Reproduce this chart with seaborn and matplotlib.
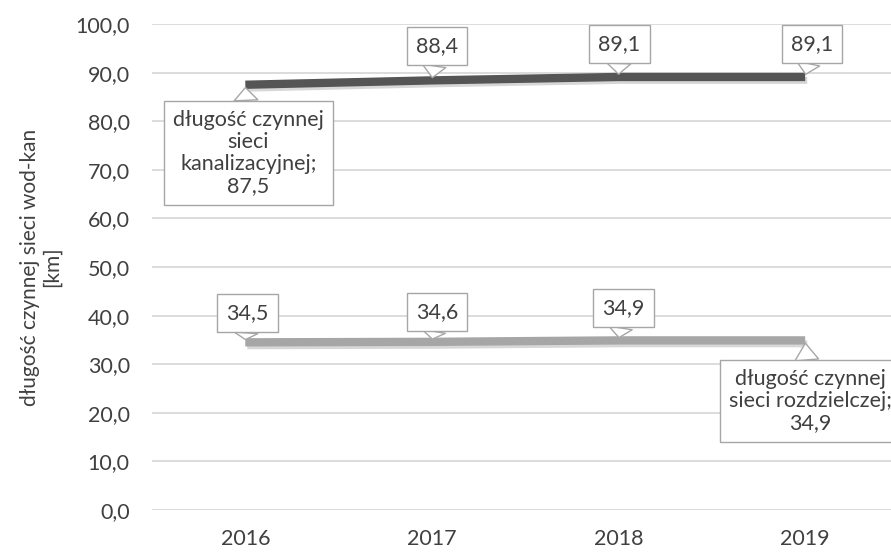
import matplotlib
matplotlib.use("Agg")
import matplotlib.pyplot as plt
import matplotlib.patheffects as pe
import seaborn as sns
import pandas as pd

years = ["2016", "2017", "2018", "2019"]
kanal = [87.5, 88.4, 89.1, 89.1]
rozdz = [34.5, 34.6, 34.9, 34.9]
kanal_name = "długość czynnej sieci kanalizacyjnej"
rozdz_name = "długość czynnej sieci rozdzielczej"
y_ticks = [0, 10, 20, 30, 40, 50, 60, 70, 80, 90, 100]

df = pd.DataFrame({
    "rok": years * 2,
    "km": kanal + rozdz,
    "seria": [kanal_name] * 4 + [rozdz_name] * 4,
})

sns.set_theme(style="white")
plt.rcParams['font.family'] = ['Lato', 'DejaVu Sans']
txt = "#404040"
fs = 15.5

fig = plt.figure(figsize=(8.91, 5.52), dpi=100)
ax = fig.add_axes([152 / 891, 42 / 552, (891 - 152) / 891, 486 / 552])

for v in y_ticks:
    ax.axhline(v, color="#d9d9d9", lw=1.3, zorder=0)

sns.lineplot(data=df, x="rok", y="km", hue="seria",
             palette={kanal_name: "#555555", rozdz_name: "#a6a6a6"},
             linewidth=6, legend=False, ax=ax, sort=False,
             path_effects=[pe.SimpleLineShadow(offset=(1.5, -2.5), shadow_color="#b0b0b0", alpha=0.5, linewidth=5),
                           pe.Normal()],
             solid_capstyle="butt")

ax.set_ylim(0, 100)
ax.set_xlim(-0.5, 3.46)
ax.set_yticks(y_ticks)
ax.set_yticklabels([f"{v:.1f}".replace(".", ",") for v in y_ticks], color=txt, fontsize=fs)
ax.tick_params(axis="y", length=0, pad=16)
ax.tick_params(axis="x", length=0, pad=14, labelsize=fs, labelcolor=txt)
for s in ax.spines.values():
    s.set_visible(False)
ax.set_xlabel("")
ax.set_ylabel("długość czynnej sieci wod-kan\n[km]", color=txt, fontsize=15, labelpad=10,
              linespacing=1.1)

box = dict(boxstyle="square,pad=0.42", fc="white", ec="#a6a6a6", lw=1)
arrow = dict(arrowstyle="wedge,tail_width=1.1,shrink_factor=0.5", fc="white", ec="#a6a6a6", lw=1,
             shrinkA=0, shrinkB=2)

def fmt(v):
    return f"{v:.1f}".replace(".", ",")

def callout(i, v, dx, dy, text=None, ha="center"):
    ax.annotate(text if text else fmt(v), xy=(i, v), xytext=(dx, dy), textcoords="offset pixels",
                ha=ha, va="center", fontsize=fs, color=txt, bbox=box, arrowprops=arrow,
                zorder=5, linespacing=1.12, annotation_clip=False)

# kanalizacja
callout(0, kanal[0], 3, -68, text="długość czynnej\nsieci\nkanalizacyjnej;\n" + fmt(kanal[0]))
callout(1, kanal[1], 5, 34)
callout(2, kanal[2], 1, 33)
callout(3, kanal[3], 7, 33)
# rozdzielcza
callout(0, rozdz[0], 2, 29)
callout(1, rozdz[1], 5, 30)
callout(2, rozdz[2], 5, 32)
callout(3, rozdz[3], 5, -61, text="długość czynnej\nsieci rozdzielczej;\n" + fmt(rozdz[3]))

fig.savefig("out.png", dpi=100, facecolor="white")
